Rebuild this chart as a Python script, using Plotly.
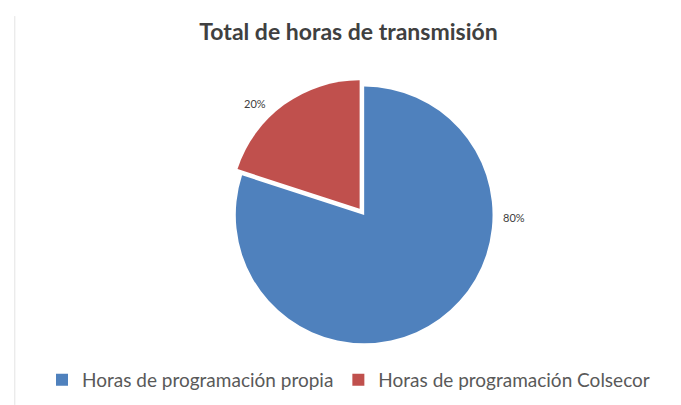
import plotly.graph_objects as go

labels = ["Horas de programación propia", "Horas de programación Colsecor"]
values = [80, 20]
colors = ["#4F81BD", "#C0504D"]
pulls = [0, 0.06]

total = sum(values)
pct_text = [f"{v / total * 100:.0f}%" for v in values]

fig = go.Figure(
    go.Pie(
        labels=labels,
        values=values,
        sort=False,
        direction="clockwise",
        rotation=0,
        pull=pulls,
        marker=dict(colors=colors, line=dict(color="white", width=0)),
        textinfo="none",
        hoverinfo="label+percent",
        domain=dict(x=[0.323, 0.723], y=[0.153, 0.825]),
    )
)

# data labels placed like Excel's "best fit"
fig.add_annotation(x=0.743, y=0.482, xref="paper", yref="paper", text=pct_text[0],
                   xanchor="center", yanchor="middle",
                   showarrow=False, font=dict(size=11, color="#404040"))
fig.add_annotation(x=0.363, y=0.764, xref="paper", yref="paper", text=pct_text[1],
                   xanchor="center", yanchor="middle",
                   showarrow=False, font=dict(size=11, color="#404040"))

fig.add_shape(type="line", xref="paper", yref="paper", x0=0.01, x1=0.01, y0=0.02, y1=0.98,
              line=dict(color="#E3E3E3", width=1))

fig.update_layout(
    width=681,
    height=405,
    margin=dict(l=0, r=0, t=0, b=0),
    paper_bgcolor="white",
    plot_bgcolor="white",
    font=dict(family="Lato, Open Sans, sans-serif", color="#595959"),
    title=dict(text="<b>Total de horas de transmisión</b>", x=0.5, xanchor="center",
               y=0.94, yanchor="middle", font=dict(size=23, color="#404040")),
    legend=dict(orientation="h", x=0.5, xanchor="center", y=0.082, yanchor="middle",
                font=dict(size=19, color="#595959"), itemwidth=30),
)

fig.write_html("out.html")
